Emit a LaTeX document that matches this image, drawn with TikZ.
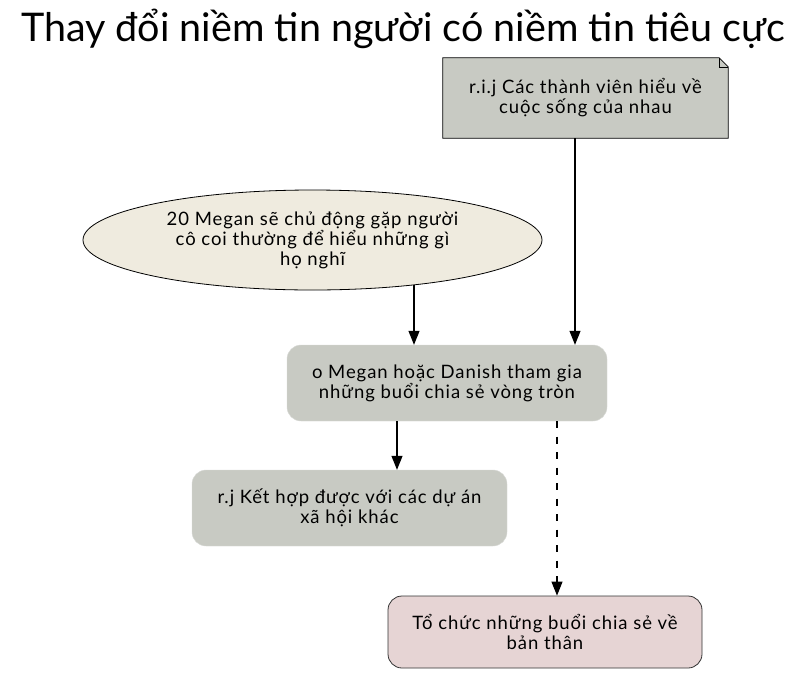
\documentclass[tikz,border=0pt]{standalone}
\usepackage{fontspec}
\setmainfont{Lato}
\newfontfamily\boxfont{Lato}[LetterSpace=5]
\usetikzlibrary{arrows.meta,shapes.geometric}
\definecolor{boxgray}{HTML}{C8CAC3}
\definecolor{ovalbeige}{HTML}{EFEBDF}
\definecolor{boxpink}{HTML}{E6D4D4}
\tikzset{
  txt/.style={font=\boxfont\fontsize{18.5}{20}\selectfont, align=center, inner sep=0pt},
  roundbox/.style={txt, rounded corners=14pt, minimum width=320pt, minimum height=76pt},
  link/.style={-{Triangle[length=14pt,width=11pt]}, line width=1.1pt},
}
\begin{document}
\begin{tikzpicture}[x=1pt,y=-1pt]
\useasboundingbox (0,0) rectangle (803,678);
\node[font=\fontsize{39.5}{44}\selectfont] (title) at (403,29) {Thay đổi niềm tin người có niềm tin tiêu cực};
\node[txt, minimum width=285pt, minimum height=80pt] (note) at (585.5,98) {};
\filldraw[fill=boxgray, line width=0.8pt] (note.south west) -- (note.north west) -- ([xshift=-9pt]note.north east) -- ([yshift=-9pt]note.north east) -- (note.south east) -- cycle;
\draw[line width=0.6pt] ([xshift=-9pt]note.north east) -- ([xshift=-9pt,yshift=-9pt]note.north east) -- ([yshift=-9pt]note.north east);
\node[txt] (notetext) at (note.center) {r.i.j Các thành viên hiểu về\\cuộc sống của nhau};
\node[txt, ellipse, draw, fill=ovalbeige, line width=0.8pt, minimum width=459pt, minimum height=100pt] (belief) at (312.5,240) {20 Megan sẽ chủ động gặp người\\cô coi thường để hiểu những gì\\họ nghĩ};
\node[roundbox, fill=boxgray, draw=boxgray!80!black!40, minimum width=320pt] (circle) at (447,383) {o Megan hoặc Danish tham gia\\những buổi chia sẻ vòng tròn};
\node[roundbox, fill=boxgray, draw=boxgray!80!black!40, minimum width=315pt] (combine) at (349.5,508) {r.j Kết hợp được với các dự án\\xã hội khác};
\node[roundbox, fill=boxpink, draw=black!80, line width=0.8pt, minimum width=314pt, minimum height=72pt] (share) at (545,632) {Tổ chức những buổi chia sẻ về\\bản thân};
\draw[link] (note.south -| 575,0) -- (circle.north -| 575,0);
\draw[link] (belief.south -| 414,0) ++(0,-5) -- (circle.north -| 414,0);
\draw[link] (circle.south -| 397,0) -- (combine.north -| 397,0);
\draw[link, dash pattern=on 7pt off 8.5pt] (circle.south -| 557,0) -- (share.north -| 557,0);
\end{tikzpicture}
\end{document}
